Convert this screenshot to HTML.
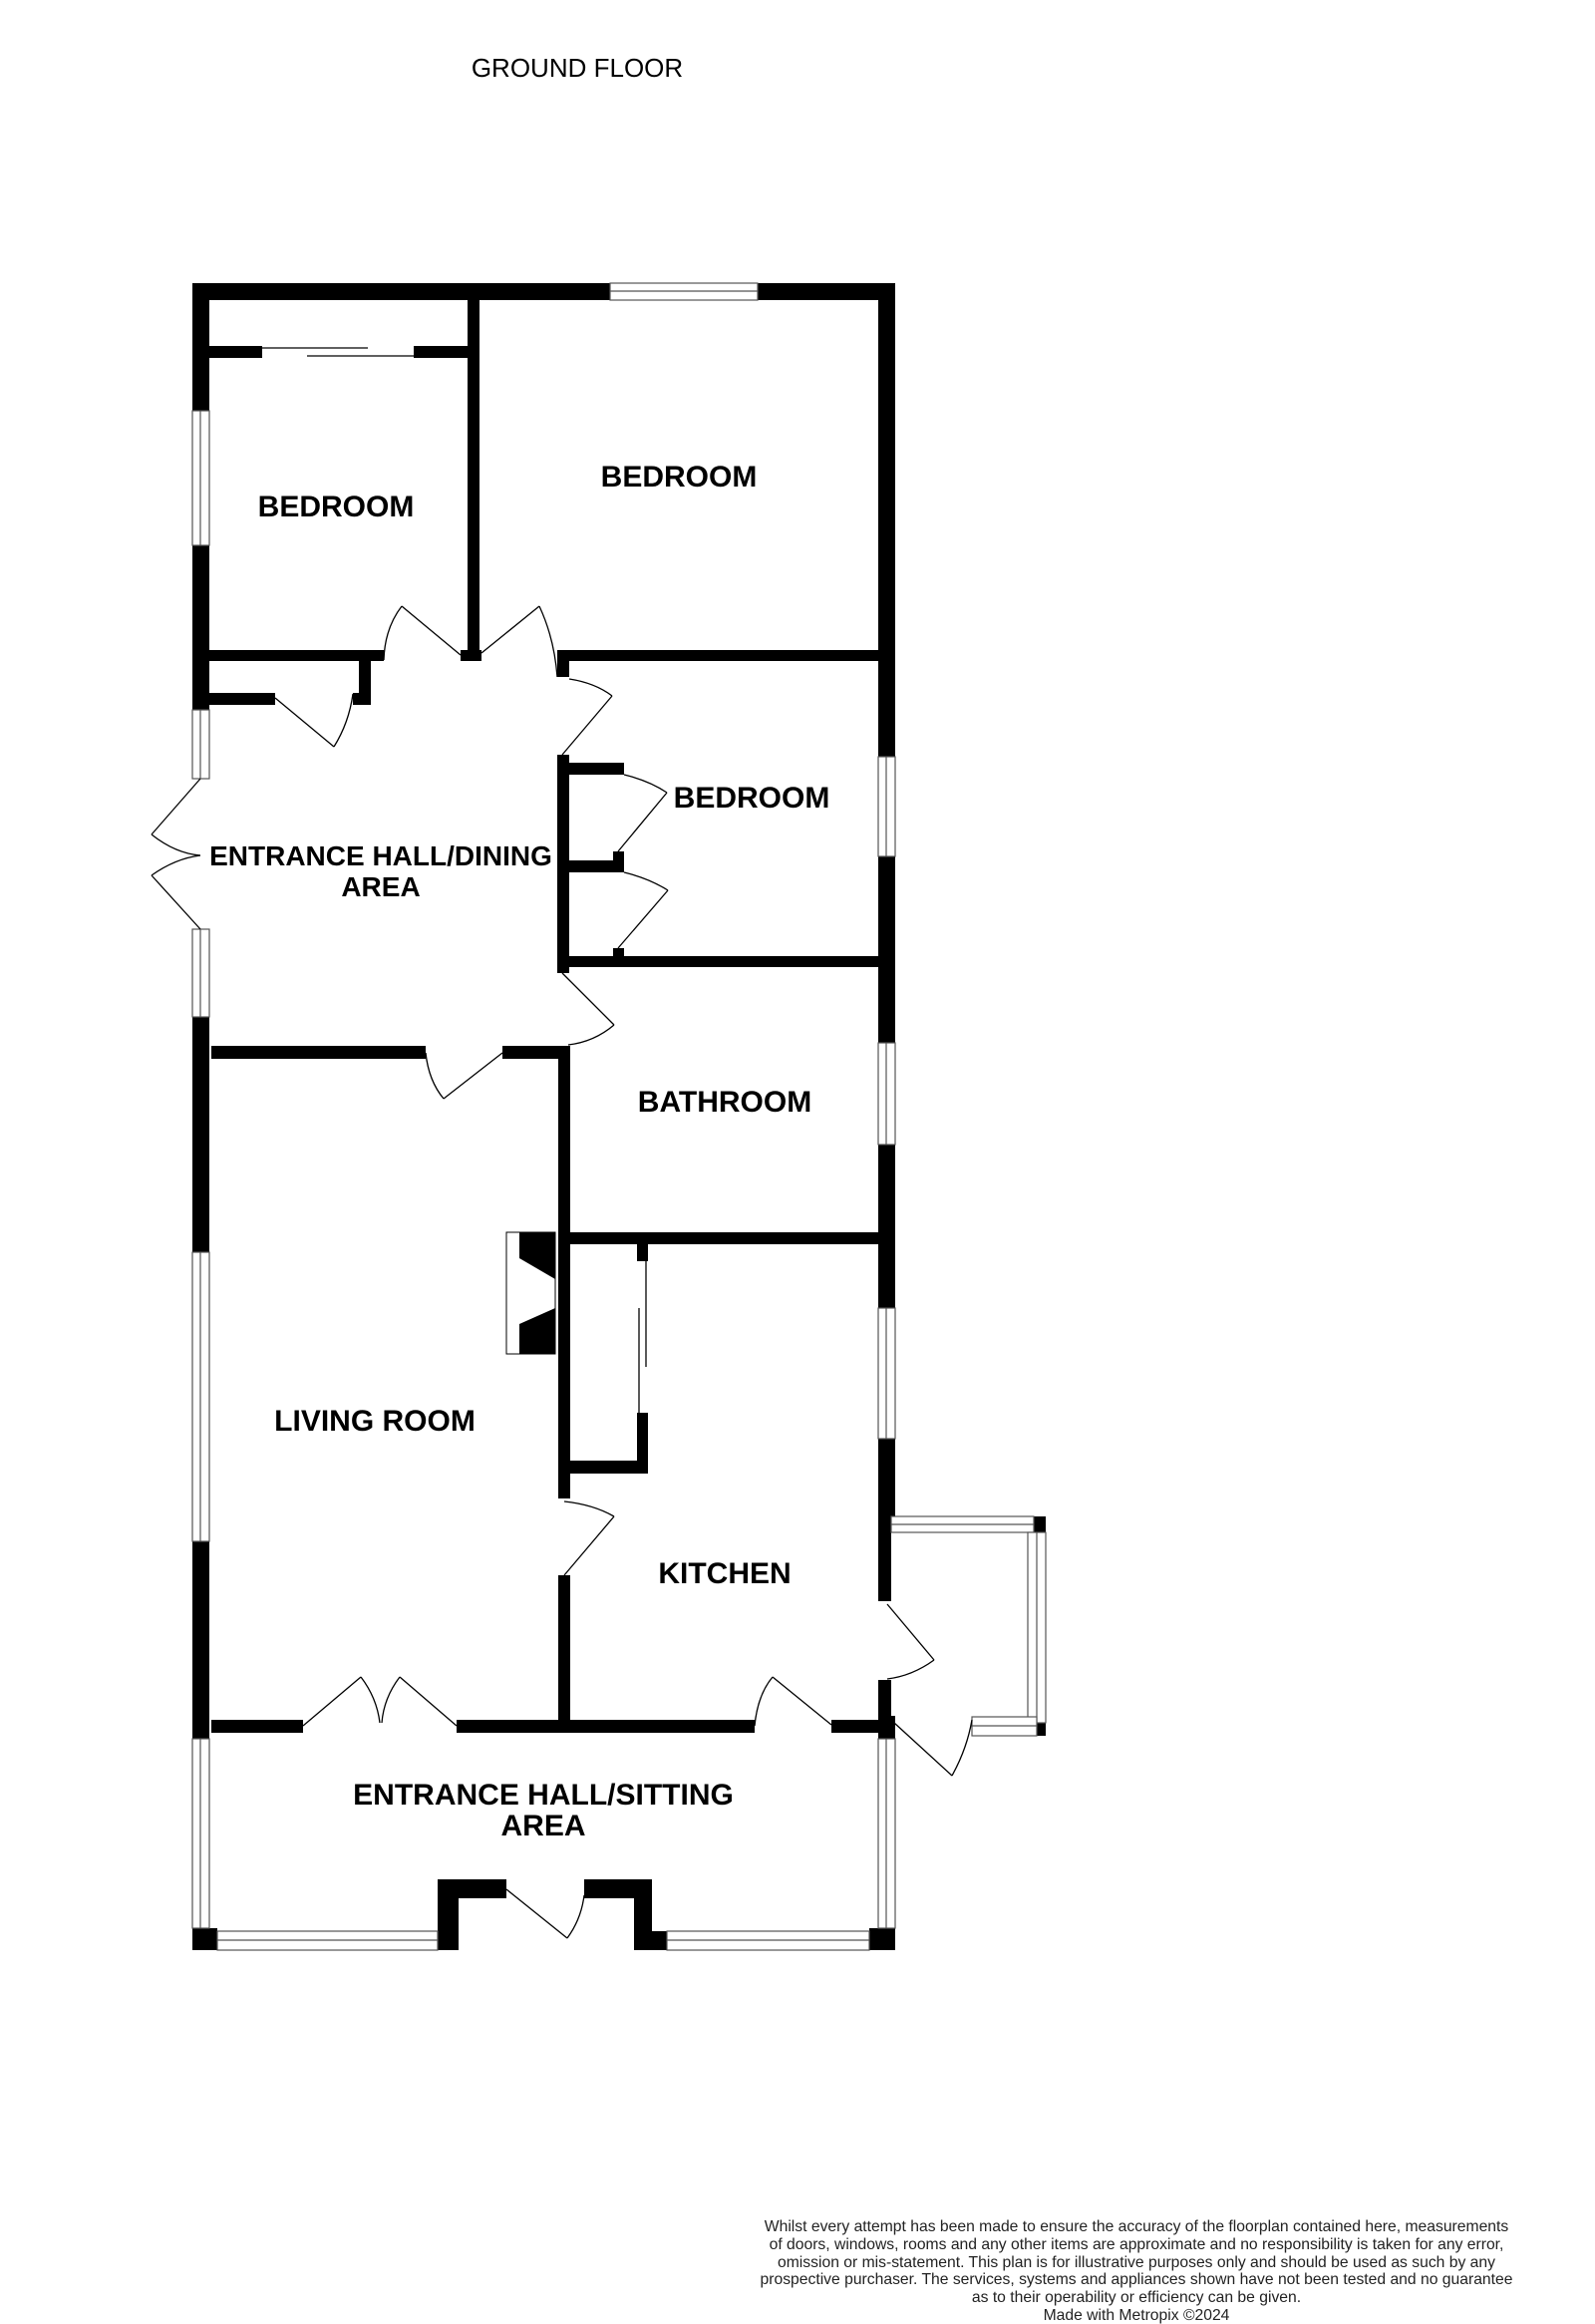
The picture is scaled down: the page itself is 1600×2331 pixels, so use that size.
<!DOCTYPE html>
<html><head><meta charset="utf-8"><style>
html,body{margin:0;padding:0;background:#fff}
svg{display:block}
.t{font-family:"Liberation Sans",sans-serif;font-weight:bold;font-size:30px;fill:#000;text-anchor:middle}
.d{font-family:"Liberation Sans",sans-serif;font-size:15.7px;fill:#222;text-anchor:middle}
</style></head><body>
<svg width="1600" height="2331" viewBox="0 0 1600 2331" xmlns="http://www.w3.org/2000/svg">
<text x="579" y="77" style="font-family:'Liberation Sans',sans-serif;font-size:26px;text-anchor:middle">GROUND FLOOR</text>
<g fill="#000">
<rect x="193" y="284" width="705" height="17"/>
<rect x="193" y="284" width="17" height="128"/>
<rect x="193" y="547" width="17" height="165"/>
<rect x="193" y="1020" width="17" height="236"/>
<rect x="193" y="1546" width="17" height="198"/>
<rect x="193" y="1934" width="25" height="22"/>
<rect x="881" y="284" width="17" height="475"/>
<rect x="881" y="859" width="17" height="187"/>
<rect x="881" y="1148" width="17" height="164"/>
<rect x="881" y="1443" width="17" height="94"/>
<rect x="881" y="1537" width="13" height="69"/>
<rect x="881" y="1685" width="13" height="59"/>
<rect x="881" y="1721" width="17" height="23"/>
<rect x="872" y="1934" width="26" height="22"/>
<rect x="469" y="284" width="12" height="379"/>
<rect x="462" y="652" width="21" height="11"/>
<rect x="210" y="347" width="53" height="12"/>
<rect x="415" y="347" width="66" height="12"/>
<rect x="210" y="652" width="175" height="11"/>
<rect x="210" y="695" width="66" height="12"/>
<rect x="360" y="663" width="12" height="44"/>
<rect x="354" y="695" width="18" height="12"/>
<rect x="559" y="652" width="339" height="11"/>
<rect x="559" y="652" width="12" height="27"/>
<rect x="559" y="757" width="12" height="219"/>
<rect x="571" y="765" width="55" height="12"/>
<rect x="571" y="863" width="55" height="12"/>
<rect x="615" y="854" width="11" height="21"/>
<rect x="615" y="951" width="11" height="12"/>
<rect x="559" y="959" width="339" height="11"/>
<rect x="212" y="1049" width="215" height="13"/>
<rect x="504" y="1049" width="68" height="13"/>
<rect x="560" y="1049" width="12" height="454"/>
<rect x="560" y="1580" width="12" height="154"/>
<rect x="572" y="1236" width="309" height="12"/>
<rect x="639" y="1248" width="11" height="17"/>
<rect x="639" y="1417" width="11" height="61"/>
<rect x="572" y="1465" width="78" height="13"/>
<rect x="508" y="1236" width="49" height="122" fill="#fff" stroke="#000" stroke-width="1"/>
<polygon points="521,1236 557,1236 557,1283 521,1262"/>
<polygon points="521,1328 557,1312 557,1358 521,1358"/>
<rect x="212" y="1725" width="92" height="13"/>
<rect x="458" y="1725" width="299" height="13"/>
<rect x="834" y="1725" width="60" height="13"/>
<rect x="439" y="1885" width="21" height="71"/>
<rect x="439" y="1885" width="69" height="19"/>
<rect x="586" y="1885" width="68" height="19"/>
<rect x="636" y="1885" width="18" height="71"/>
<rect x="654" y="1937" width="15" height="19"/>
<rect x="1037" y="1521" width="12" height="16"/>
<rect x="1040" y="1728" width="9" height="13"/>
</g>
<g fill="#fff" stroke="#555" stroke-width="1.2">
<rect x="612" y="284" width="148" height="17"/><line x1="612" y1="292" x2="760" y2="292"/>
<rect x="193" y="412" width="17" height="135"/><line x1="201" y1="412" x2="201" y2="547"/>
<rect x="193" y="712" width="17" height="69"/><line x1="201" y1="712" x2="201" y2="781"/>
<rect x="193" y="932" width="17" height="88"/><line x1="201" y1="932" x2="201" y2="1020"/>
<rect x="193" y="1256" width="17" height="290"/><line x1="201" y1="1256" x2="201" y2="1546"/>
<rect x="193" y="1744" width="17" height="190"/><line x1="201" y1="1744" x2="201" y2="1934"/>
<rect x="881" y="759" width="17" height="100"/><line x1="889" y1="759" x2="889" y2="859"/>
<rect x="881" y="1046" width="17" height="102"/><line x1="889" y1="1046" x2="889" y2="1148"/>
<rect x="881" y="1312" width="17" height="131"/><line x1="889" y1="1312" x2="889" y2="1443"/>
<rect x="881" y="1744" width="17" height="190"/><line x1="889" y1="1744" x2="889" y2="1934"/>
<rect x="218" y="1937" width="221" height="19"/><line x1="218" y1="1946" x2="439" y2="1946"/>
<rect x="669" y="1937" width="203" height="19"/><line x1="669" y1="1946" x2="872" y2="1946"/>
<rect x="894" y="1521" width="143" height="16"/><line x1="894" y1="1529" x2="1037" y2="1529"/>
<rect x="1031" y="1537" width="18" height="191"/><line x1="1040" y1="1537" x2="1040" y2="1728"/>
<rect x="975" y="1722" width="65" height="19"/><line x1="975" y1="1731" x2="1040" y2="1731"/>
</g>
<g fill="none" stroke="#000" stroke-width="1.3">
<line x1="263" y1="349" x2="369" y2="349"/>
<line x1="308" y1="357" x2="415" y2="357"/>
<line x1="648" y1="1265" x2="648" y2="1371"/>
<line x1="641" y1="1312" x2="641" y2="1417"/>
<line x1="276" y1="700" x2="335" y2="749"/><path d="M335,749 Q350,725 354,696"/>
<line x1="462" y1="657" x2="403" y2="608"/><path d="M403,608 Q386,630 385,662"/>
<line x1="483" y1="655" x2="541" y2="608"/><path d="M541,608 Q556,640 559,679"/>
<path d="M571,681 Q597,685 614,698"/><line x1="614" y1="698" x2="564" y2="757"/>
<path d="M626,777 Q651,783 669,795"/><line x1="669" y1="795" x2="620" y2="854"/>
<path d="M626,875 Q651,881 670,893"/><line x1="670" y1="893" x2="620" y2="951"/>
<line x1="201" y1="781" x2="152" y2="837"/><path d="M152,837 Q176,856 201,858"/>
<path d="M201,858 Q176,861 152,878"/><line x1="152" y1="878" x2="201" y2="932"/>
<line x1="564" y1="976" x2="616" y2="1028"/><path d="M616,1028 Q596,1045 570,1048"/>
<path d="M427,1056 Q430,1084 445,1102"/><line x1="445" y1="1102" x2="504" y2="1056"/>
<path d="M566,1506 Q595,1509 616,1521"/><line x1="616" y1="1521" x2="566" y2="1580"/>
<line x1="304" y1="1731" x2="362" y2="1682"/><path d="M362,1682 Q378,1703 381,1728"/>
<line x1="458" y1="1731" x2="401" y2="1682"/><path d="M401,1682 Q385,1703 383,1728"/>
<path d="M757,1731 Q760,1700 775,1682"/><line x1="775" y1="1682" x2="834" y2="1730"/>
<line x1="890" y1="1609" x2="937" y2="1665"/><path d="M937,1665 Q915,1681 890,1684"/>
<line x1="897" y1="1728" x2="955" y2="1781"/><path d="M955,1781 Q970,1754 975,1725"/>
<line x1="508" y1="1895" x2="569" y2="1944"/><path d="M569,1944 Q583,1925 586,1901"/>
</g>
<text class="t" x="337" y="518">BEDROOM</text>
<text class="t" x="681" y="488">BEDROOM</text>
<text class="t" x="754" y="810">BEDROOM</text>
<text class="t" x="382" y="868" style="font-size:28px">ENTRANCE HALL/DINING</text>
<text class="t" x="382" y="899" style="font-size:28px">AREA</text>
<text class="t" x="727" y="1115">BATHROOM</text>
<text class="t" x="376" y="1435">LIVING ROOM</text>
<text class="t" x="727" y="1588">KITCHEN</text>
<text class="t" x="545" y="1810">ENTRANCE HALL/SITTING</text>
<text class="t" x="545" y="1841">AREA</text>
<g class="d">
<text x="1140" y="2238">Whilst every attempt has been made to ensure the accuracy of the floorplan contained here, measurements</text>
<text x="1140" y="2256">of doors, windows, rooms and any other items are approximate and no responsibility is taken for any error,</text>
<text x="1140" y="2274">omission or mis-statement. This plan is for illustrative purposes only and should be used as such by any</text>
<text x="1140" y="2291">prospective purchaser. The services, systems and appliances shown have not been tested and no guarantee</text>
<text x="1140" y="2309">as to their operability or efficiency can be given.</text>
<text x="1140" y="2327">Made with Metropix ©2024</text>
</g>
</svg>
</body></html>
